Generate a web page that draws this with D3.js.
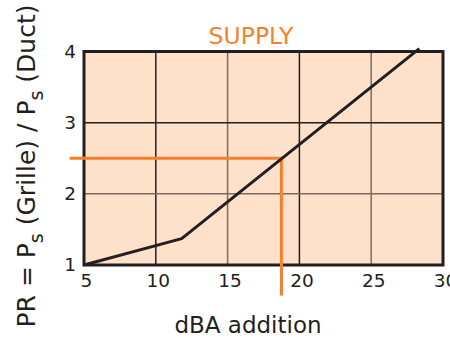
<!DOCTYPE html>
<html><head><meta charset="utf-8">
<script src="https://cdn.jsdelivr.net/npm/d3@7"></script>
<style>body{margin:0;background:#fff}svg{display:block}</style>
</head><body>
<script>
// Data
const xTicks = [5, 10, 15, 20, 25, 30];
const yTicks = [1, 2, 3, 4];
const curveX = [5, 11.8, 28.35];
const curveY = [1, 1.37, 4.04];
const guideX = [4, 18.75, 18.75];
const guideY = [2.5, 2.5, 0.57];
const title = "SUPPLY";
const xTitle = "dBA addition";

const W = 450, H = 338;
const svg = d3.select("body").append("svg").attr("width", W).attr("height", H);
const x = d3.scaleLinear().domain([5, 30]).range([84, 443]);
const y = d3.scaleLinear().domain([1, 4]).range([265, 51.5]);
const font = "DejaVu Sans, Verdana, sans-serif";

svg.append("rect").attr("x", x(5)).attr("y", y(4)).attr("width", x(30) - x(5)).attr("height", y(1) - y(4)).attr("fill", "#fde1ca");

// grid
const gridColor = (i) => (i % 2 === 0 ? "#231f20" : "#7a6a60");
svg.append("g").selectAll("line").data(xTicks.slice(1, -1)).join("line")
  .attr("x1", d => x(d)).attr("x2", d => x(d)).attr("y1", y(4)).attr("y2", y(1))
  .attr("stroke", (d, i) => gridColor(i)).attr("stroke-width", 1.5);
svg.append("g").selectAll("line").data(yTicks.slice(1, -1)).join("line")
  .attr("y1", d => y(d)).attr("y2", d => y(d)).attr("x1", x(5)).attr("x2", x(30))
  .attr("stroke", (d, i) => (d === 3 ? "#231f20" : "#7a6a60")).attr("stroke-width", 1.5);

// frame
svg.append("rect").attr("x", x(5)).attr("y", y(4)).attr("width", x(30) - x(5)).attr("height", y(1) - y(4))
  .attr("fill", "none").attr("stroke", "#231f20").attr("stroke-width", 3);

// axes (labels only)
const xAxis = d3.axisBottom(x).tickValues(xTicks).tickFormat(d3.format("d")).tickSize(0).tickPadding(9);
const gx = svg.append("g").attr("transform", `translate(0,${y(1)})`).call(xAxis);
gx.select(".domain").remove();
gx.selectAll("text").attr("font-family", font).attr("font-size", 18.5).attr("fill", "#231f20").attr("dx", 2);
const yAxis = d3.axisLeft(y).tickValues(yTicks).tickFormat(d3.format("d")).tickSize(0).tickPadding(8);
const gy = svg.append("g").attr("transform", `translate(${x(5)},0)`).call(yAxis);
gy.select(".domain").remove();
gy.selectAll("text").attr("font-family", font).attr("font-size", 18.5).attr("fill", "#231f20");

// orange guide
const line = d3.line().x(d => x(d[0])).y(d => y(d[1]));
svg.append("path").attr("d", line(guideX.map((v, i) => [v, guideY[i]])))
  .attr("fill", "none").attr("stroke", "#f5822a").attr("stroke-width", 3);

// curve
svg.append("path").attr("d", line(curveX.map((v, i) => [v, curveY[i]])))
  .attr("fill", "none").attr("stroke", "#231f20").attr("stroke-width", 3).attr("stroke-linejoin", "round");

// titles
svg.append("text").attr("x", 251).attr("y", 43.5).attr("text-anchor", "middle")
  .attr("font-family", font).attr("font-size", 23.5).attr("fill", "#f5822a").text(title);
svg.append("text").attr("x", 248).attr("y", 333).attr("text-anchor", "middle")
  .attr("font-family", font).attr("font-size", 23).attr("fill", "#231f20").text(xTitle);

const yt = svg.append("text").attr("transform", "translate(35,166) rotate(-90)").attr("text-anchor", "middle")
  .attr("font-family", font).attr("font-size", 25).attr("fill", "#231f20");
yt.append("tspan").text("PR = P");
yt.append("tspan").attr("dy", 8).attr("font-size", 19).text("s");
yt.append("tspan").attr("dy", -8).text(" (Grille) / P");
yt.append("tspan").attr("dy", 8).attr("font-size", 19).text("s");
yt.append("tspan").attr("dy", -8).text(" (Duct)");
</script>
</body></html>
